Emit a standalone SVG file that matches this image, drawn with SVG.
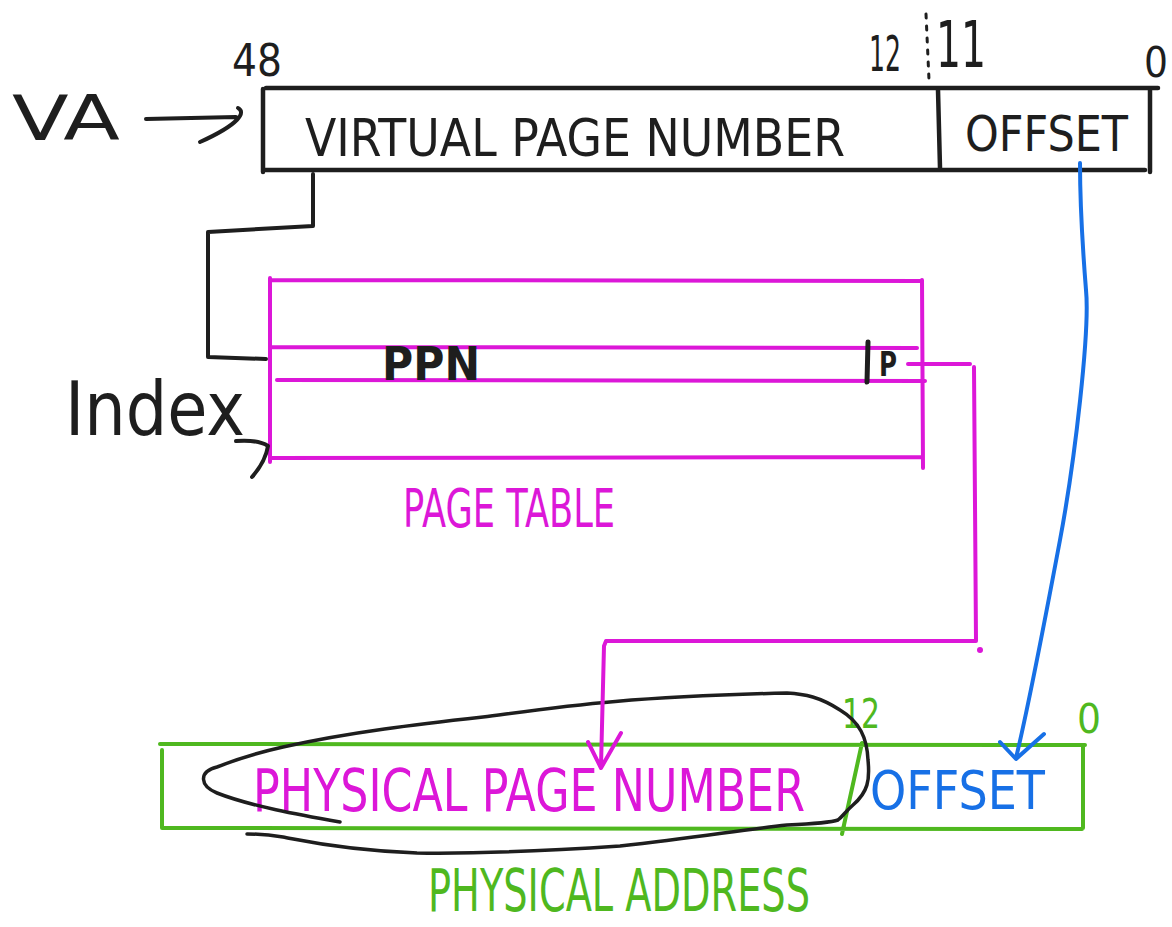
<svg xmlns="http://www.w3.org/2000/svg" width="1172" height="927" viewBox="0 0 1172 927">
  <style>
    .ink { fill: none; stroke-linecap: round; stroke-linejoin: round; }
    .k { stroke: #1e1e1e; }
    .m { stroke: #dc17d8; }
    .g { stroke: #4fb81f; }
    .b { stroke: #1770e6; }
    .t { font-family: "DejaVu Sans", "Liberation Sans", sans-serif; }
    .tk { fill: #1e1e1e; }
    .tm { fill: #dc17d8; }
    .tg { fill: #4fb81f; }
    .tb { fill: #1770e6; }
  </style>
  <rect width="1172" height="927" fill="#ffffff"/>

  <!-- virtual address register -->
  <g id="va-label">
    <text class="t tk" x="12" y="140" font-size="62" textLength="108" lengthAdjust="spacingAndGlyphs">VA</text>
    <path class="ink k" stroke-width="4" d="M146 119 L236 117 M238 108 C246 112 240 124 200 142"/>
  </g>

  <g id="va-register">
    <path class="ink k" stroke-width="4.5" d="M266 88 L1158 88 M263 89 L263 172 M263 170 L1145 170 M1150 90 L1150 172 M938 90 L940 168"/>
    <path class="ink k" stroke-width="3" stroke-dasharray="4 8" d="M926 14 L929 80"/>
    <text class="t tk" x="232" y="76" font-size="44" textLength="50" lengthAdjust="spacingAndGlyphs">48</text>
    <text class="t tk" x="869" y="71" font-size="50" textLength="32" lengthAdjust="spacingAndGlyphs">12</text>
    <text class="t tk" x="936" y="67" font-size="64" textLength="50" lengthAdjust="spacingAndGlyphs">11</text>
    <text class="t tk" x="1144" y="77" font-size="42" textLength="24" lengthAdjust="spacingAndGlyphs">0</text>
    <text class="t tk" x="305" y="156" font-size="52" textLength="540" lengthAdjust="spacingAndGlyphs">VIRTUAL PAGE NUMBER</text>
    <text class="t tk" x="965" y="151" font-size="50" textLength="163" lengthAdjust="spacingAndGlyphs">OFFSET</text>
  </g>

  <!-- page table -->
  <g id="page-table">
    <path class="ink m" stroke-width="4" d="M270 280 L922 281 M270 278 L270 462 M272 458 L922 457 M922 280 L923 468 M272 347 L917 348 M277 380 L925 381"/>
    <text class="t tk" x="382" y="380" font-size="46" font-weight="bold" textLength="98" lengthAdjust="spacingAndGlyphs">PPN</text>
    <path class="ink k" stroke-width="5" d="M868 342 L867 382"/>
    <text class="t tk" x="879" y="376" font-size="34" font-weight="bold" textLength="18" lengthAdjust="spacingAndGlyphs">P</text>
    <text class="t tm" x="403" y="527" font-size="54" textLength="212" lengthAdjust="spacingAndGlyphs">PAGE TABLE</text>
  </g>

  <g id="index-label">
    <text class="t tk" x="65" y="435" font-size="74" textLength="180" lengthAdjust="spacingAndGlyphs">Index</text>
  </g>

  <!-- physical address register -->
  <g id="pa-register">
    <path class="ink g" stroke-width="4" d="M160 744 L1085 745 M162 750 L162 828 M163 828 L1082 829 M1083 746 L1083 828 M862 743 L842 834"/>
    <text class="t tg" x="842" y="728" font-size="40" textLength="38" lengthAdjust="spacingAndGlyphs">12</text>
    <text class="t tg" x="1077" y="733" font-size="40" textLength="24" lengthAdjust="spacingAndGlyphs">0</text>
    <text class="t tm" transform="translate(253 811) scale(1 1.35)" x="0" y="0" font-size="44" textLength="552" lengthAdjust="spacingAndGlyphs">PHYSICAL PAGE NUMBER</text>
    <text class="t tb" x="870" y="809" font-size="54" textLength="175" lengthAdjust="spacingAndGlyphs">OFFSET</text>
    <text class="t tg" x="428" y="911" font-size="58" textLength="382" lengthAdjust="spacingAndGlyphs">PHYSICAL ADDRESS</text>
  </g>

  <!-- lasso around the physical page number -->
  <g id="ppn-lasso">
    <path class="ink k" stroke-width="3.5" d="M340 822 C300 815 250 806 217 793 C200 786 198 772 217 767 C240 758 265 751 283 747 C350 732 420 724 483 717 C560 707 620 697 787 693 C805 694 820 697 840 710 C860 722 867 738 868 760 C870 780 868 792 853 805 C845 812 843 816 838 820 C830 823 810 824 787 825 C740 830 700 837 620 846 C560 850 480 854 417 853 C340 850 300 840 283 837 C265 834 255 834 247 834"/>
  </g>

  <g id="connectors">
    <!-- VPN to page table index -->
    <path class="ink k" stroke-width="4" d="M313 174 L313 226 L208 232 L208 357 L266 359"/>
    <path class="ink k" stroke-width="4" d="M236 441 C250 440 262 442 268 446 C266 458 260 468 252 477"/>
    <!-- PPN to physical address -->
    <path class="ink m" stroke-width="4" d="M908 364 L970 364 M974 367 L976 641 L606 641 L604 646 L601 766 M588 742 L601 768 L621 733"/>
    <circle cx="980" cy="650" r="3" fill="#dc17d8"/>
    <!-- offset copied across -->
    <path class="ink b" stroke-width="4" d="M1080 163 C1080 200 1082 240 1086 290 C1090 330 1075 460 1060 540 C1045 620 1030 700 1016 758 M1000 742 L1016 759 L1044 734"/>
  </g>
</svg>
